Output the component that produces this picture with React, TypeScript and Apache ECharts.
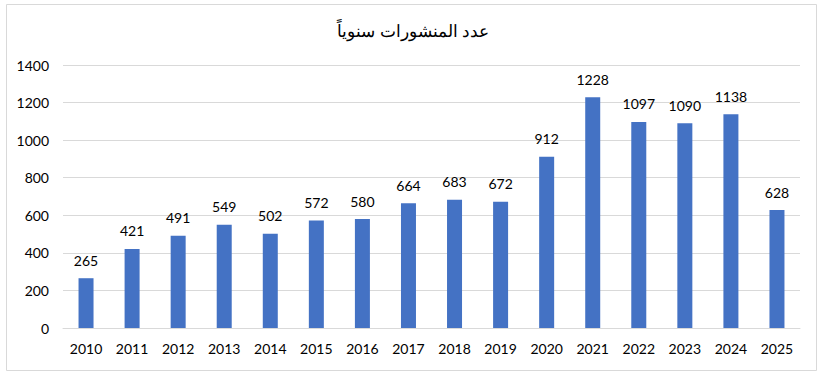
import React, { useEffect, useRef } from "react";
import * as echarts from "echarts";

const years = ["2010","2011","2012","2013","2014","2015","2016","2017","2018","2019","2020","2021","2022","2023","2024","2025"];
const counts = [265, 421, 491, 549, 502, 572, 580, 664, 683, 672, 912, 1228, 1097, 1090, 1138, 628];
const titleText = "عدد المنشورات سنوياً";

export default function App() {
  const ref = useRef<HTMLDivElement>(null);
  useEffect(() => {
    const chart = echarts.init(ref.current!, null, { renderer: "svg" });
    const font = "Lato, Carlito, sans-serif";
    chart.setOption({
      animation: false,
      backgroundColor: "#ffffff",
      title: {
        text: titleText,
        left: "center",
        top: 18,
        textStyle: { fontFamily: "Liberation Sans, Arial", fontSize: 17, fontWeight: "normal", color: "#000" },
      },
      graphic: [
        {
          type: "rect",
          shape: { x: 6.5, y: 4.5, width: 810, height: 366 },
          style: { fill: "none", stroke: "#d9d9d9", lineWidth: 1 },
          silent: true,
        },
      ],
      grid: { left: 63, right: 26, top: 65, bottom: 48 },
      xAxis: {
        type: "category",
        data: years,
        axisLine: { show: true, lineStyle: { color: "#d9d9d9" } },
        axisTick: { show: false },
        axisLabel: { color: "#000", fontSize: 14, fontFamily: font, margin: 13 },
      },
      yAxis: {
        type: "value",
        min: 0,
        max: 1400,
        interval: 200,
        axisLine: { show: false },
        axisTick: { show: false },
        splitLine: { lineStyle: { color: "#d9d9d9" } },
        axisLabel: { color: "#000", fontSize: 14, fontFamily: font, margin: 14, formatter: (v: number) => String(v) },
      },
      series: [
        {
          type: "bar",
          data: counts,
          barWidth: 15,
          itemStyle: { color: "#4472C4" },
          label: {
            show: true,
            position: "top",
            distance: 11,
            color: "#000",
            fontSize: 14,
            fontFamily: font,
          },
        },
      ],
    });
    return () => chart.dispose();
  }, []);
  return <div ref={ref} style={{ position: "absolute", left: 0, top: 0, width: 826, height: 376 }} />;
}
